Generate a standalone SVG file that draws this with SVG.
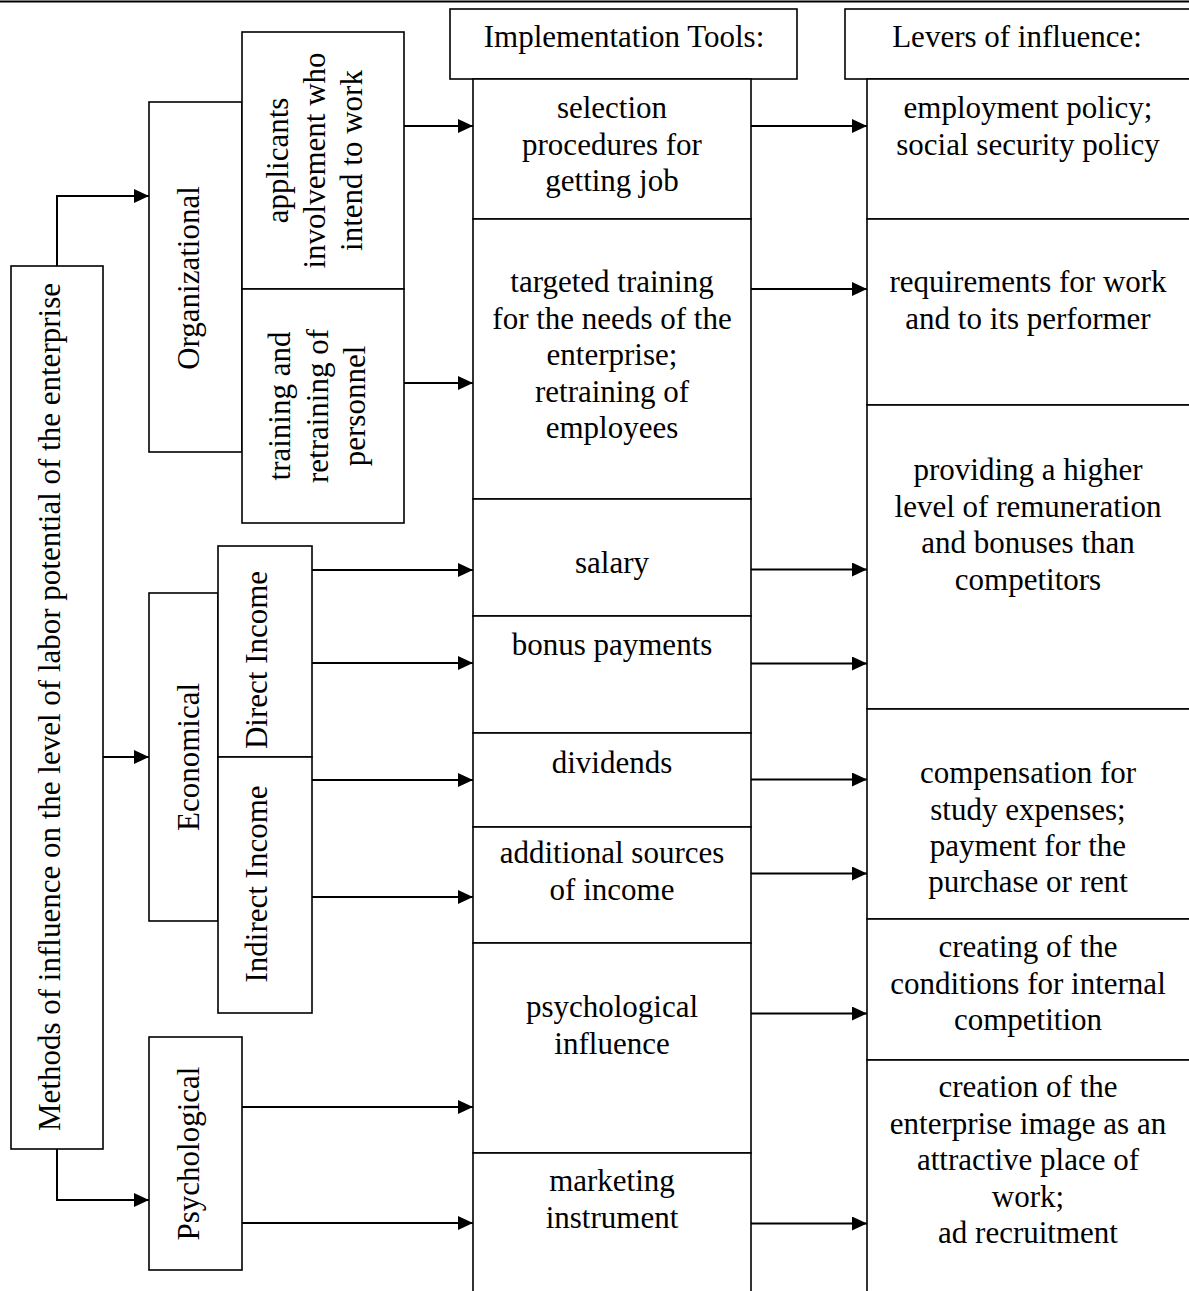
<svg xmlns="http://www.w3.org/2000/svg" width="1189" height="1291" viewBox="0 0 1189 1291">
<defs>
<marker id="ah" markerUnits="userSpaceOnUse" markerWidth="15" markerHeight="14" viewBox="0 0 15 14" refX="15" refY="7" orient="auto">
<path d="M0,0 L15,7 L0,14 z" fill="#000"/>
</marker>
<style>
.b{fill:#fff;stroke:#000;stroke-width:1.6}
.t{font-family:"Liberation Serif","Times New Roman",serif;font-size:31px;fill:#000;text-anchor:middle}
.c{fill:none;stroke:#000;stroke-width:2;marker-end:url(#ah)}
</style>
</defs>
<rect width="1189" height="1291" fill="#fff"/>
<line x1="0" y1="1.5" x2="1189" y2="1.5" stroke="#000" stroke-width="2"/>

<g id="main">
<rect class="b" x="11" y="266" width="92" height="883"/>
<text class="t" transform="translate(60,707) rotate(-90)">Methods of influence on the level of labor potential of the enterprise</text>
</g>

<g id="organizational">
<rect class="b" x="149" y="102" width="93" height="350"/>
<text class="t" transform="translate(199,278) rotate(-90)">Organizational</text>
</g>
<g id="applicants">
<rect class="b" x="242" y="32" width="162" height="257"/>
<text class="t" transform="translate(288,160.5) rotate(-90)"><tspan x="0" y="0">applicants</tspan><tspan x="0" dy="37">involvement who</tspan><tspan x="0" dy="37">intend to work</tspan></text>
</g>
<g id="training">
<rect class="b" x="242" y="289" width="162" height="234"/>
<text class="t" transform="translate(290,406) rotate(-90)"><tspan x="0" y="0">training and</tspan><tspan x="0" dy="37.5">retraining of</tspan><tspan x="0" dy="37.5">personnel</tspan></text>
</g>

<g id="economical">
<rect class="b" x="149" y="593" width="69" height="328"/>
<text class="t" transform="translate(199,757) rotate(-90)">Economical</text>
</g>
<g id="direct-income">
<rect class="b" x="218" y="546" width="94" height="211"/>
<text class="t" transform="translate(267,660) rotate(-90)">Direct Income</text>
</g>
<g id="indirect-income">
<rect class="b" x="218" y="757" width="94" height="256"/>
<text class="t" transform="translate(267,884) rotate(-90)">Indirect Income</text>
</g>

<g id="psychological">
<rect class="b" x="149" y="1037" width="93" height="233"/>
<text class="t" transform="translate(199,1153.5) rotate(-90)">Psychological</text>
</g>

<g id="impl-header">
<rect class="b" x="450" y="9" width="347" height="70"/>
<text class="t" x="624" y="47">Implementation Tools:</text>
</g>
<g id="levers-header">
<rect class="b" x="845" y="9" width="347" height="70"/>
<text class="t" x="1017" y="47">Levers of influence:</text>
</g>

<g id="impl-selection">
<rect class="b" x="473" y="79" width="278" height="140"/>
<text class="t"><tspan x="612" y="118">selection</tspan><tspan x="612" y="154.5">procedures for</tspan><tspan x="612" y="191">getting job</tspan></text>
</g>
<g id="impl-training">
<rect class="b" x="473" y="219" width="278" height="280"/>
<text class="t"><tspan x="612" y="292">targeted training</tspan><tspan x="612" y="328.5">for the needs of the</tspan><tspan x="612" y="365">enterprise;</tspan><tspan x="612" y="401.5">retraining of</tspan><tspan x="612" y="438">employees</tspan></text>
</g>
<g id="impl-salary">
<rect class="b" x="473" y="499" width="278" height="117"/>
<text class="t" x="612" y="573">salary</text>
</g>
<g id="impl-bonus">
<rect class="b" x="473" y="616" width="278" height="117"/>
<text class="t" x="612" y="655">bonus payments</text>
</g>
<g id="impl-dividends">
<rect class="b" x="473" y="733" width="278" height="94"/>
<text class="t" x="612" y="773">dividends</text>
</g>
<g id="impl-additional">
<rect class="b" x="473" y="827" width="278" height="116"/>
<text class="t"><tspan x="612" y="863">additional sources</tspan><tspan x="612" y="899.5">of income</tspan></text>
</g>
<g id="impl-psych">
<rect class="b" x="473" y="943" width="278" height="210"/>
<text class="t"><tspan x="612" y="1017">psychological</tspan><tspan x="612" y="1053.5">influence</tspan></text>
</g>
<g id="impl-marketing">
<rect class="b" x="473" y="1153" width="278" height="150"/>
<text class="t"><tspan x="612" y="1191">marketing</tspan><tspan x="612" y="1228">instrument</tspan></text>
</g>

<g id="lev-employment">
<rect class="b" x="867" y="79" width="325" height="140"/>
<text class="t"><tspan x="1028" y="118">employment policy;</tspan><tspan x="1028" y="154.5">social security policy</tspan></text>
</g>
<g id="lev-requirements">
<rect class="b" x="867" y="219" width="325" height="186"/>
<text class="t"><tspan x="1028" y="292">requirements for work</tspan><tspan x="1028" y="329">and to its performer</tspan></text>
</g>
<g id="lev-remuneration">
<rect class="b" x="867" y="405" width="325" height="304"/>
<text class="t"><tspan x="1028" y="480">providing a higher</tspan><tspan x="1028" y="516.5">level of remuneration</tspan><tspan x="1028" y="553">and bonuses than</tspan><tspan x="1028" y="589.5">competitors</tspan></text>
</g>
<g id="lev-compensation">
<rect class="b" x="867" y="709" width="325" height="210"/>
<text class="t"><tspan x="1028" y="783">compensation for</tspan><tspan x="1028" y="819.5">study expenses;</tspan><tspan x="1028" y="856">payment for the</tspan><tspan x="1028" y="892">purchase or rent</tspan></text>
</g>
<g id="lev-competition">
<rect class="b" x="867" y="919" width="325" height="141"/>
<text class="t"><tspan x="1028" y="957">creating of the</tspan><tspan x="1028" y="993.5">conditions for internal</tspan><tspan x="1028" y="1030">competition</tspan></text>
</g>
<g id="lev-image">
<rect class="b" x="867" y="1060" width="325" height="243"/>
<text class="t"><tspan x="1028" y="1097">creation of the</tspan><tspan x="1028" y="1133.5">enterprise image as an</tspan><tspan x="1028" y="1170">attractive place of</tspan><tspan x="1028" y="1206.5">work;</tspan><tspan x="1028" y="1243">ad recruitment</tspan></text>
</g>

<g id="connectors">
<path class="c" d="M57,266 V196 H149"/>
<path class="c" d="M103,757 H149"/>
<path class="c" d="M57,1149 V1200 H149"/>
<path class="c" d="M404,126 H473"/>
<path class="c" d="M404,383 H473"/>
<path class="c" d="M312,570 H473"/>
<path class="c" d="M312,663 H473"/>
<path class="c" d="M312,780 H473"/>
<path class="c" d="M312,897 H473"/>
<path class="c" d="M242,1107 H473"/>
<path class="c" d="M242,1223 H473"/>
<path class="c" d="M751,126 H867"/>
<path class="c" d="M751,289 H867"/>
<path class="c" d="M751,569.5 H867"/>
<path class="c" d="M751,663.5 H867"/>
<path class="c" d="M751,779.5 H867"/>
<path class="c" d="M751,873.5 H867"/>
<path class="c" d="M751,1013.5 H867"/>
<path class="c" d="M751,1223.5 H867"/>
</g>
</svg>
